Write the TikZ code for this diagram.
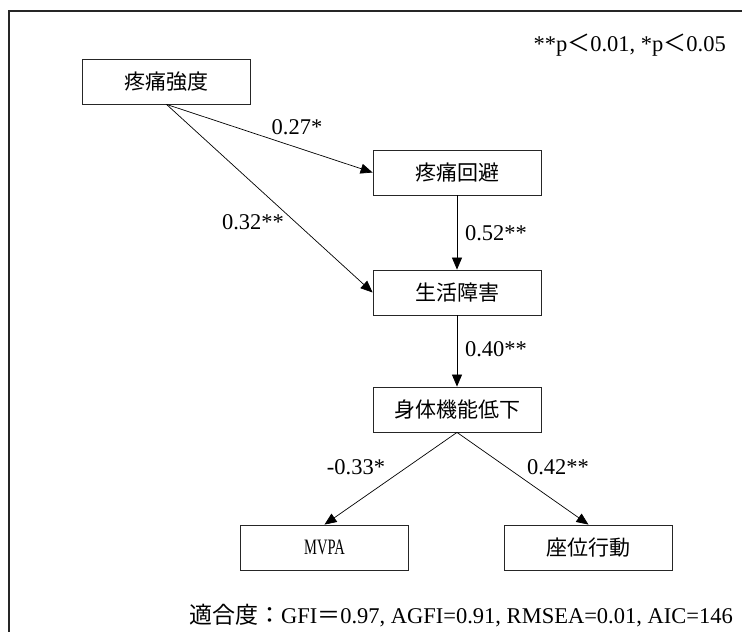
\documentclass[tikz,border=0pt]{standalone}
\usepackage{fontspec}
\usepackage{graphicx}
\setmainfont{Liberation Serif}
\newfontfamily\jp{Noto Sans CJK JP}
\usetikzlibrary{arrows.meta}
\newcommand{\jpbig}[1]{{\jp\fontsize{23}{26}\selectfont #1}}
\begin{document}
\begin{tikzpicture}[x=1pt,y=-1pt,
  box/.style={draw=black!85, line width=0.8pt, minimum width=168pt, minimum height=45pt, inner sep=0pt, font=\jp\fontsize{21}{24}\selectfont},
  arr/.style={-{Triangle[length=12pt,width=10pt]}, line width=0.7pt},
  lab/.style={font=\fontsize{22.5}{26}\selectfont, inner sep=0pt}]
\useasboundingbox (0,0) rectangle (742,632);
\draw[line width=2pt, black!85] (9,632) -- (9,11) -- (742,11);
\node[box] (a) at (166.5,81.5) {疼痛強度};
\node[box] (b) at (457,172.5) {疼痛回避};
\node[box] (c) at (457,292.5) {生活障害};
\node[box] (d) at (457,409.5) {身体機能低下};
\node[box, font=\fontsize{22}{24}\selectfont] (e) at (324.5,547.5) {\scalebox{0.66}[1]{MVPA}};
\node[box] (f) at (588.5,547.5) {座位行動};
\draw[arr] (a.south) -- (b.west);
\draw[arr] (a.south) -- (c.west);
\draw[arr] (b) -- (c);
\draw[arr] (c) -- (d);
\draw[arr] (d.south) -- (e.north);
\draw[arr] (d.south) -- (f.north);
\node[lab] (l1) at (297,127) {0.27*};
\node[lab] (l2) at (253,222) {0.32**};
\node[lab] (l3) at (496,233) {0.52**};
\node[lab] (l4) at (496,349) {0.40**};
\node[lab] (l5) at (356,467) {-0.33*};
\node[lab] (l6) at (558,467) {0.42**};
\node[lab, anchor=east] (p) at (726,45) {**p\jpbig{＜}0.01, *p\jpbig{＜}0.05};
\node[lab, anchor=east] (fit) at (733,616) {\jpbig{適合度：}GFI\jpbig{＝}0.97, AGFI=0.91, RMSEA=0.01, AIC=146};
\end{tikzpicture}
\end{document}
